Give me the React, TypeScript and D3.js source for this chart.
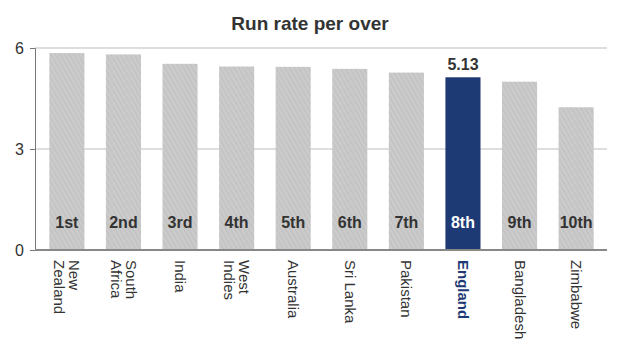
import React, { useEffect, useRef } from 'react';
import * as d3 from 'd3';

const countries = ['New Zealand', 'South Africa', 'India', 'West Indies', 'Australia', 'Sri Lanka', 'Pakistan', 'England', 'Bangladesh', 'Zimbabwe'];
const countryLabels = ['New\nZealand', 'South\nAfrica', 'India', 'West\nIndies', 'Australia', 'Sri Lanka', 'Pakistan', 'England', 'Bangladesh', 'Zimbabwe'];
const ranks = ['1st', '2nd', '3rd', '4th', '5th', '6th', '7th', '8th', '9th', '10th'];
const runRates = [5.85, 5.81, 5.53, 5.45, 5.44, 5.38, 5.27, 5.13, 5.0, 4.24];
const yTicks = [0, 3, 6];
const highlight = 'England';

const W = 624;
const H = 358;
const FONT = '"Liberation Sans", Arial, Helvetica, sans-serif';
const NAVY = '#1e3a75';

export default function App() {
  const svgRef = useRef<SVGSVGElement>(null);

  useEffect(() => {
    if (!svgRef.current) return;
    const svg = d3.select(svgRef.current);
    svg.selectAll('*').remove();

    const left = 35;
    const right = 607;
    const x = d3.scaleBand<string>()
      .domain(countries)
      .range([38, 605])
      .paddingInner(0.38)
      .paddingOuter(0.2);
    const y = d3.scaleLinear().domain([0, 6]).range([250, 48]);

    // hatch pattern for grey bars
    const defs = svg.append('defs');
    const pat = defs.append('pattern')
      .attr('id', 'hatch')
      .attr('patternUnits', 'userSpaceOnUse')
      .attr('width', 4)
      .attr('height', 4)
      .attr('patternTransform', 'rotate(-30)');
    pat.append('rect').attr('width', 4).attr('height', 4).attr('fill', '#cbcbcb');
    pat.append('rect').attr('width', 1.5).attr('height', 4).attr('fill', '#c2c2c2');

    // title
    svg.append('text')
      .attr('x', 310)
      .attr('y', 30)
      .attr('text-anchor', 'middle')
      .style('font-family', FONT)
      .style('font-size', '19px')
      .style('font-weight', 'bold')
      .style('fill', '#333')
      .text('Run rate per over');

    // gridlines
    svg.append('g')
      .selectAll('line')
      .data(yTicks.filter(t => t > 0))
      .join('line')
      .attr('x1', left)
      .attr('x2', right)
      .attr('y1', d => y(d))
      .attr('y2', d => y(d))
      .attr('stroke', '#bdbdbd')
      .attr('stroke-width', 1);

    // bars
    svg.append('g')
      .selectAll('rect')
      .data(countries)
      .join('rect')
      .attr('x', d => x(d)!)
      .attr('y', (d, i) => y(runRates[i]))
      .attr('width', x.bandwidth())
      .attr('height', (d, i) => y(0) - y(runRates[i]))
      .attr('fill', d => d === highlight ? NAVY : 'url(#hatch)');

    // rank labels
    svg.append('g')
      .selectAll('text')
      .data(countries)
      .join('text')
      .attr('x', d => x(d)! + x.bandwidth() / 2)
      .attr('y', 228)
      .attr('text-anchor', 'middle')
      .style('font-family', FONT)
      .style('font-size', '16px')
      .style('font-weight', 'bold')
      .style('fill', d => d === highlight ? '#fff' : '#333')
      .text((d, i) => ranks[i]);

    // value label for highlight
    const hi = countries.indexOf(highlight);
    svg.append('text')
      .attr('x', x(highlight)! + x.bandwidth() / 2)
      .attr('y', y(runRates[hi]) - 7)
      .attr('text-anchor', 'middle')
      .style('font-family', FONT)
      .style('font-size', '16px')
      .style('font-weight', 'bold')
      .style('fill', '#333')
      .text(d3.format('.2f')(runRates[hi]));

    // y axis
    const yAxis = svg.append('g')
      .attr('transform', `translate(${left},0)`)
      .call(d3.axisLeft(y).tickValues(yTicks).tickFormat(d3.format('d')).tickSize(5).tickPadding(6));
    yAxis.select('.domain').attr('stroke', '#777');
    yAxis.selectAll('.tick line').attr('stroke', '#777');
    yAxis.selectAll('.tick text')
      .style('font-family', FONT)
      .style('font-size', '16px')
      .style('fill', '#333');

    // baseline
    svg.append('line')
      .attr('x1', left)
      .attr('x2', right)
      .attr('y1', y(0))
      .attr('y2', y(0))
      .attr('stroke', '#888')
      .attr('stroke-width', 2);

    // country labels (rotated)
    const labels = svg.append('g')
      .selectAll('text')
      .data(countries)
      .join('text')
      .attr('transform', (d, i) => {
        const lines = countryLabels[i].split('\n').length;
        const cx = x(d)! + x.bandwidth() / 2 + (lines - 1) * 7.5 - 5;
        return `translate(${cx},260) rotate(90)`;
      })
      .style('font-family', FONT)
      .style('font-size', '15px')
      .style('font-weight', d => d === highlight ? 'bold' : 'normal')
      .style('fill', d => d === highlight ? NAVY : '#333');
    labels.selectAll('tspan')
      .data((d, i) => countryLabels[i].split('\n'))
      .join('tspan')
      .attr('x', 0)
      .attr('dy', (d, i) => i === 0 ? 0 : 15)
      .text(d => d);
  }, []);

  return (
    <div style={{ position: 'absolute', left: 0, top: 0 }}>
      <svg ref={svgRef} width={W} height={H} style={{ display: 'block', background: '#fff' }} />
    </div>
  );
}
